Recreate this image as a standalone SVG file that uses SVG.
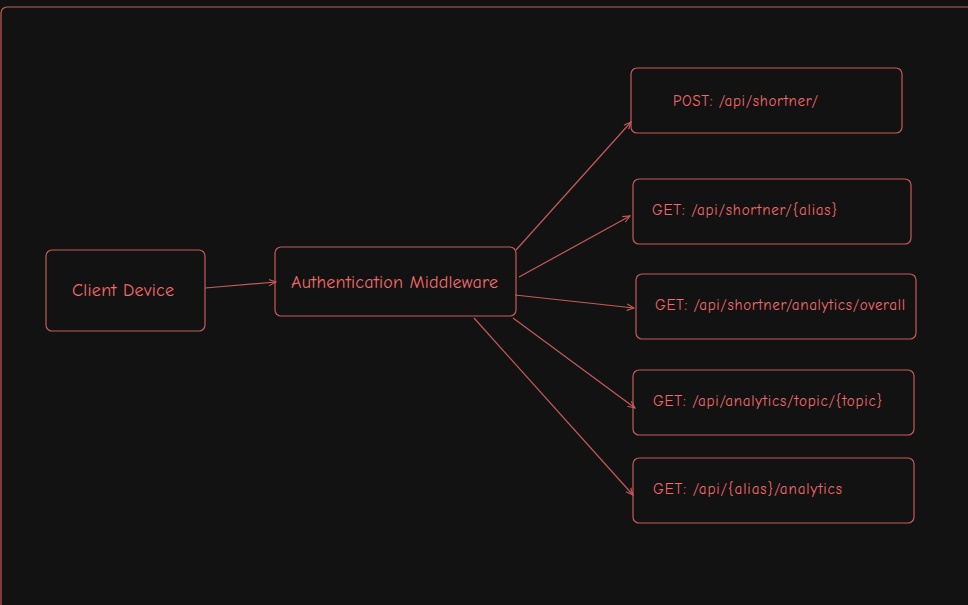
<svg xmlns="http://www.w3.org/2000/svg" width="968" height="605" viewBox="0 0 968 605">
<defs>
<style>
.box{fill:none;stroke:#c65a5a;stroke-width:1.2}
.lbl{fill:#f46a6a;font-family:"Comic Neue","Liberation Sans",sans-serif;font-size:15px;dominant-baseline:central}
.big{font-size:18px}
.edge{stroke:#c65a5a;stroke-width:1.2;fill:none;marker-end:url(#ah)}
</style>
<marker id="ah" viewBox="0 0 10 10" refX="9" refY="5" markerWidth="8" markerHeight="8" orient="auto" markerUnits="userSpaceOnUse">
<path d="M0,1 L9,5 L0,9" fill="none" stroke="#c65a5a" stroke-width="1.4"/>
</marker>
</defs>
<rect width="968" height="605" fill="#121212"/>
<rect id="frame" x="1" y="7" width="1000" height="640" rx="6" class="box"/>
<g id="client"><rect x="46" y="250" width="159" height="81" rx="6" class="box"/><text class="lbl big" x="72" y="290" textLength="102">Client Device</text></g>
<g id="auth"><rect x="275" y="247" width="241" height="69" rx="6" class="box"/><text class="lbl big" x="291" y="282" textLength="207">Authentication Middleware</text></g>
<g id="post"><rect x="631" y="68" width="271" height="65" rx="6" class="box"/><text class="lbl" x="673" y="101" textLength="145">POST: /api/shortner/</text></g>
<g id="getalias"><rect x="633" y="179" width="278" height="65" rx="6" class="box"/><text class="lbl" x="652" y="210" textLength="185">GET: /api/shortner/{alias}</text></g>
<g id="overall"><rect x="636" y="274" width="280" height="65" rx="6" class="box"/><text class="lbl" x="655" y="305" textLength="250">GET: /api/shortner/analytics/overall</text></g>
<g id="topic"><rect x="633" y="370" width="281" height="65" rx="6" class="box"/><text class="lbl" x="653" y="401" textLength="229">GET: /api/analytics/topic/{topic}</text></g>
<g id="aliasan"><rect x="633" y="458" width="281" height="65" rx="6" class="box"/><text class="lbl" x="653" y="489" textLength="189">GET: /api/{alias}/analytics</text></g>
<g id="connectors">
<line class="edge" x1="205" y1="288" x2="276" y2="282"/>
<line class="edge" x1="516" y1="250" x2="631" y2="122"/>
<line class="edge" x1="519" y1="277" x2="630" y2="216"/>
<line class="edge" x1="515" y1="295" x2="634" y2="308"/>
<line class="edge" x1="513" y1="318" x2="635" y2="408"/>
<line class="edge" x1="474" y1="318" x2="633" y2="495"/>
</g>
</svg>
